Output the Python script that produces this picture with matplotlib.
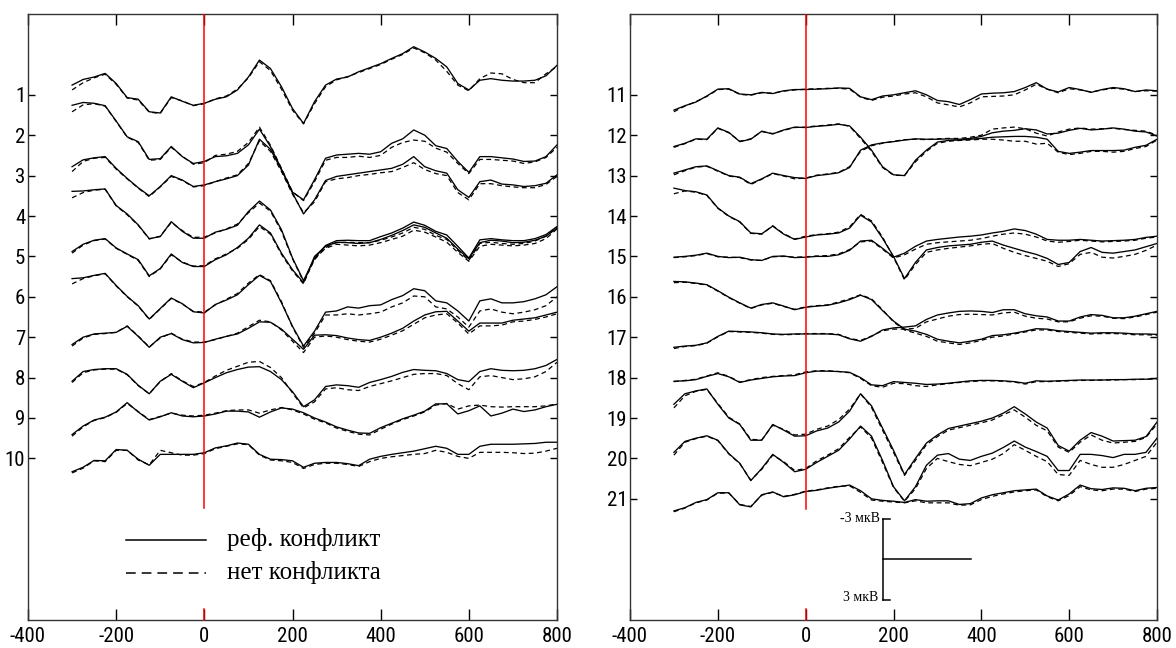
import matplotlib.pyplot as plt
from matplotlib import font_manager

# time axis (ms) and labels
time_ms = list(range(-300, 801, 25))
x_ticks = [-400, -200, 0, 200, 400, 600, 800]
left_channels = list(range(1, 11))
right_channels = list(range(11, 22))
legend_labels = ["реф. конфликт", "нет конфликта"]
scale_labels = ["-3 мкВ", "3 мкВ"]
uv_per_unit = 3.0     # 1 channel step = 3 мкВ, negative up
scale_ms = 200

# ERP traces, in channel units
# ref = "реф. конфликт" (solid), nc = "нет конфликта" (dashed)
ref_01 = [0.76, 0.62, 0.56, 0.47, 0.72, 1.07, 1.11, 1.42, 1.45,
          1.05, 1.16, 1.26, 1.21, 1.11, 1.05, 0.88, 0.56, 0.14,
          0.35, 0.80, 1.34, 1.71, 1.17, 0.76, 0.61, 0.56, 0.43,
          0.33, 0.23, 0.10, -0.02, -0.19, -0.06, 0.10, 0.31, 0.72,
          0.88, 0.64, 0.60, 0.64, 0.66, 0.66, 0.64, 0.53, 0.27]
nc_01 = [0.88, 0.70, 0.58, 0.49, 0.74, 1.08, 1.13, 1.43, 1.46,
         1.07, 1.15, 1.27, 1.22, 1.10, 1.03, 0.86, 0.58, 0.18,
         0.40, 0.86, 1.38, 1.72, 1.22, 0.80, 0.63, 0.55, 0.45,
         0.35, 0.25, 0.12, 0.00, -0.16, -0.04, 0.14, 0.42, 0.76,
         0.90, 0.60, 0.46, 0.48, 0.62, 0.70, 0.70, 0.48, 0.30]
ref_02 = [1.26, 1.19, 1.21, 1.27, 1.65, 2.04, 2.16, 2.60, 2.58,
          2.28, 2.53, 2.70, 2.65, 2.53, 2.51, 2.45, 2.24, 1.85,
          2.28, 2.84, 3.41, 3.60, 3.10, 2.57, 2.49, 2.47, 2.45,
          2.47, 2.41, 2.20, 2.09, 1.87, 2.00, 2.26, 2.33, 2.65,
          2.92, 2.53, 2.53, 2.56, 2.59, 2.65, 2.64, 2.53, 2.24]
nc_02 = [1.42, 1.25, 1.22, 1.28, 1.66, 2.05, 2.18, 2.62, 2.60,
         2.30, 2.52, 2.72, 2.68, 2.50, 2.47, 2.40, 2.18, 1.80,
         2.25, 2.82, 3.40, 3.62, 3.15, 2.62, 2.55, 2.55, 2.52,
         2.55, 2.50, 2.30, 2.18, 2.12, 2.15, 2.32, 2.42, 2.70,
         2.95, 2.60, 2.60, 2.62, 2.64, 2.70, 2.66, 2.55, 2.30]
ref_03 = [2.78, 2.61, 2.56, 2.53, 2.82, 3.07, 3.30, 3.50, 3.27,
          3.00, 3.11, 3.27, 3.23, 3.15, 3.08, 3.00, 2.74, 2.10,
          2.35, 2.86, 3.43, 3.95, 3.60, 3.12, 3.02, 2.98, 2.94,
          2.90, 2.86, 2.82, 2.72, 2.53, 2.78, 2.88, 2.94, 3.35,
          3.54, 3.15, 3.11, 3.21, 3.23, 3.27, 3.25, 3.19, 2.98]
nc_03 = [2.90, 2.65, 2.57, 2.55, 2.84, 3.08, 3.31, 3.52, 3.28,
         3.02, 3.12, 3.28, 3.25, 3.15, 3.06, 2.98, 2.70, 2.14,
         2.40, 2.90, 3.46, 3.92, 3.65, 3.15, 3.08, 3.05, 3.00,
         2.97, 2.93, 2.90, 2.80, 2.68, 2.85, 2.95, 3.00, 3.42,
         3.60, 3.20, 3.20, 3.25, 3.28, 3.30, 3.30, 3.22, 3.02]
ref_04 = [3.39, 3.38, 3.35, 3.33, 3.74, 3.95, 4.22, 4.56, 4.51,
          4.14, 4.38, 4.55, 4.55, 4.40, 4.33, 4.23, 3.89, 3.63,
          3.85, 4.34, 5.04, 5.60, 5.04, 4.73, 4.61, 4.60, 4.61,
          4.61, 4.51, 4.42, 4.30, 4.15, 4.23, 4.38, 4.47, 4.75,
          5.04, 4.59, 4.56, 4.59, 4.61, 4.61, 4.56, 4.46, 4.26]
nc_04 = [3.55, 3.42, 3.36, 3.34, 3.75, 3.97, 4.23, 4.57, 4.50,
         4.16, 4.36, 4.53, 4.52, 4.42, 4.32, 4.20, 3.92, 3.68,
         3.88, 4.38, 5.06, 5.62, 5.08, 4.78, 4.66, 4.65, 4.66,
         4.66, 4.60, 4.52, 4.42, 4.28, 4.33, 4.48, 4.58, 4.85,
         5.10, 4.68, 4.65, 4.68, 4.70, 4.68, 4.62, 4.50, 4.28]
ref_05 = [4.88, 4.70, 4.60, 4.56, 4.79, 4.94, 5.08, 5.48, 5.30,
          4.94, 5.15, 5.25, 5.25, 5.08, 4.96, 4.78, 4.55, 4.22,
          4.42, 4.92, 5.33, 5.65, 5.00, 4.75, 4.65, 4.66, 4.68,
          4.66, 4.58, 4.48, 4.36, 4.22, 4.28, 4.42, 4.55, 4.82,
          5.06, 4.66, 4.60, 4.62, 4.66, 4.65, 4.60, 4.50, 4.30]
nc_05 = [4.92, 4.72, 4.61, 4.57, 4.80, 4.95, 5.10, 5.50, 5.31,
         4.96, 5.14, 5.24, 5.23, 5.06, 4.94, 4.80, 4.58, 4.26,
         4.45, 4.95, 5.36, 5.68, 5.05, 4.80, 4.70, 4.72, 4.74,
         4.72, 4.66, 4.58, 4.50, 4.35, 4.40, 4.52, 4.65, 4.90,
         5.12, 4.75, 4.70, 4.72, 4.74, 4.72, 4.68, 4.56, 4.32]
ref_06 = [5.55, 5.53, 5.47, 5.42, 5.72, 5.99, 6.22, 6.55, 6.29,
          6.03, 6.17, 6.37, 6.40, 6.19, 6.08, 5.95, 5.70, 5.47,
          5.62, 6.15, 6.73, 7.22, 6.85, 6.38, 6.35, 6.25, 6.28,
          6.22, 6.20, 6.07, 5.97, 5.80, 5.85, 6.10, 6.15, 6.35,
          6.60, 6.10, 6.05, 6.15, 6.15, 6.12, 6.05, 5.95, 5.75]
nc_06 = [5.68, 5.55, 5.48, 5.43, 5.73, 6.00, 6.23, 6.56, 6.30,
         6.04, 6.18, 6.36, 6.38, 6.20, 6.06, 5.92, 5.66, 5.45,
         5.60, 6.12, 6.75, 7.25, 6.90, 6.45, 6.45, 6.42, 6.45,
         6.42, 6.38, 6.25, 6.15, 5.98, 6.00, 6.25, 6.30, 6.50,
         6.75, 6.35, 6.30, 6.38, 6.42, 6.38, 6.32, 6.22, 6.00]
ref_07 = [7.18, 7.00, 6.92, 6.90, 6.88, 6.73, 6.98, 7.25, 7.00,
          6.91, 7.06, 7.14, 7.13, 7.05, 6.98, 6.92, 6.78, 6.62,
          6.63, 6.80, 7.05, 7.30, 6.95, 6.94, 6.96, 7.02, 7.06,
          7.08, 7.00, 6.90, 6.78, 6.60, 6.45, 6.37, 6.36, 6.60,
          6.85, 6.65, 6.65, 6.65, 6.58, 6.55, 6.52, 6.45, 6.38]
nc_07 = [7.22, 7.02, 6.93, 6.91, 6.88, 6.72, 6.97, 7.24, 7.02,
         6.90, 7.05, 7.12, 7.12, 7.06, 6.98, 6.90, 6.74, 6.58,
         6.62, 6.82, 7.10, 7.38, 7.00, 6.97, 7.00, 7.06, 7.10,
         7.12, 7.05, 6.95, 6.84, 6.68, 6.52, 6.45, 6.42, 6.65,
         6.92, 6.72, 6.72, 6.70, 6.62, 6.60, 6.56, 6.50, 6.42]
ref_08 = [8.09, 7.85, 7.80, 7.78, 7.78, 7.92, 8.19, 8.40, 8.09,
          7.92, 8.09, 8.25, 8.13, 8.00, 7.88, 7.80, 7.74, 7.73,
          7.85, 8.05, 8.35, 8.72, 8.55, 8.22, 8.18, 8.20, 8.24,
          8.12, 8.05, 7.97, 7.87, 7.80, 7.82, 7.83, 7.90, 8.05,
          8.10, 7.85, 7.78, 7.82, 7.83, 7.82, 7.78, 7.70, 7.55]
nc_08 = [8.12, 7.88, 7.81, 7.79, 7.79, 7.93, 8.20, 8.40, 8.10,
         7.90, 8.08, 8.22, 8.12, 7.96, 7.82, 7.72, 7.62, 7.60,
         7.75, 8.00, 8.38, 8.75, 8.60, 8.28, 8.25, 8.30, 8.32,
         8.22, 8.15, 8.08, 8.00, 7.92, 7.90, 7.90, 7.95, 8.15,
         8.30, 7.98, 7.95, 8.00, 8.05, 8.03, 7.98, 7.85, 7.62]
ref_09 = [9.41, 9.20, 9.05, 8.98, 8.85, 8.62, 8.85, 9.05, 8.97,
          8.87, 8.95, 8.97, 8.95, 8.90, 8.83, 8.83, 8.85, 8.98,
          8.85, 8.75, 8.78, 8.87, 9.00, 9.10, 9.22, 9.30, 9.37,
          9.38, 9.24, 9.13, 9.02, 8.93, 8.83, 8.65, 8.65, 8.90,
          8.82, 8.70, 8.95, 8.88, 8.78, 8.84, 8.80, 8.72, 8.66]
nc_09 = [9.45, 9.22, 9.06, 8.99, 8.86, 8.64, 8.84, 9.04, 8.96,
         8.88, 8.93, 8.95, 8.93, 8.88, 8.82, 8.80, 8.80, 8.88,
         8.80, 8.74, 8.80, 8.90, 9.03, 9.12, 9.25, 9.33, 9.40,
         9.42, 9.28, 9.15, 9.04, 8.95, 8.85, 8.68, 8.64, 8.78,
         8.70, 8.68, 8.72, 8.73, 8.72, 8.72, 8.72, 8.70, 8.65]
ref_10 = [10.33, 10.22, 10.05, 10.06, 9.78, 9.80, 10.02, 10.17, 9.90,
          9.90, 9.90, 9.90, 9.86, 9.74, 9.69, 9.62, 9.65, 9.90,
          10.02, 10.03, 10.06, 10.22, 10.12, 10.10, 10.10, 10.13, 10.18,
          10.02, 9.95, 9.90, 9.86, 9.82, 9.76, 9.70, 9.75, 9.90,
          9.90, 9.70, 9.65, 9.65, 9.65, 9.64, 9.63, 9.60, 9.60]
nc_10 = [10.36, 10.24, 10.06, 10.08, 9.80, 9.80, 10.04, 10.16, 9.80,
         9.86, 9.92, 9.92, 9.88, 9.76, 9.70, 9.64, 9.66, 9.92,
         10.04, 10.06, 10.10, 10.25, 10.15, 10.12, 10.12, 10.15, 10.20,
         10.08, 10.00, 9.96, 9.93, 9.90, 9.88, 9.80, 9.85, 9.95,
         10.00, 9.85, 9.85, 9.85, 9.86, 9.88, 9.87, 9.82, 9.75]
ref_11 = [11.38, 11.27, 11.18, 11.03, 10.86, 10.85, 10.98, 11.00, 10.94,
          10.97, 10.90, 10.87, 10.87, 10.86, 10.85, 10.83, 10.84, 11.05,
          11.12, 11.03, 11.00, 10.95, 10.90, 11.00, 11.14, 11.17, 11.24,
          11.12, 10.98, 10.96, 10.95, 10.92, 10.82, 10.70, 10.86, 10.93,
          10.82, 10.87, 10.94, 10.87, 10.82, 10.85, 10.92, 10.88, 10.90]
nc_11 = [11.42, 11.28, 11.17, 11.04, 10.87, 10.86, 10.99, 11.01, 10.95,
         10.96, 10.91, 10.88, 10.86, 10.85, 10.84, 10.84, 10.86, 11.06,
         11.14, 11.06, 11.03, 10.98, 10.95, 11.05, 11.20, 11.25, 11.30,
         11.20, 11.05, 11.04, 11.03, 11.00, 10.88, 10.74, 10.86, 10.95,
         10.85, 10.88, 10.93, 10.88, 10.84, 10.86, 10.92, 10.90, 10.91]
ref_12 = [12.28, 12.20, 12.09, 12.10, 11.82, 11.93, 12.16, 12.10, 11.90,
          11.97, 11.87, 11.80, 11.81, 11.78, 11.76, 11.73, 11.77, 12.05,
          12.37, 12.78, 12.98, 13.00, 12.62, 12.37, 12.17, 12.13, 12.12,
          12.10, 12.08, 12.05, 12.04, 12.03, 12.03, 12.05, 12.10, 12.40,
          12.45, 12.42, 12.38, 12.38, 12.38, 12.37, 12.30, 12.25, 12.10]
nc_12 = [12.30, 12.21, 12.10, 12.11, 11.83, 11.94, 12.15, 12.09, 11.91,
         11.96, 11.88, 11.81, 11.80, 11.77, 11.75, 11.72, 11.78, 12.08,
         12.40, 12.80, 12.99, 13.00, 12.66, 12.40, 12.20, 12.15, 12.13,
         12.12, 12.10, 12.10, 12.12, 12.15, 12.15, 12.22, 12.20, 12.42,
         12.48, 12.45, 12.40, 12.40, 12.42, 12.40, 12.33, 12.28, 12.12]
ref_13 = [12.94, 12.86, 12.78, 12.76, 12.88, 13.00, 13.04, 13.20, 13.08,
          12.94, 13.00, 13.05, 13.07, 13.00, 12.97, 12.93, 12.80, 12.37,
          12.24, 12.19, 12.16, 12.12, 12.09, 12.10, 12.10, 12.09, 12.10,
          12.08, 12.03, 11.94, 11.90, 11.88, 11.84, 11.87, 11.97, 11.95,
          11.88, 11.83, 11.87, 11.85, 11.82, 11.85, 11.90, 11.92, 12.02]
nc_13 = [12.98, 12.88, 12.79, 12.77, 12.89, 13.01, 13.05, 13.22, 13.09,
         12.95, 13.01, 13.08, 13.06, 12.99, 12.96, 12.92, 12.78, 12.40,
         12.26, 12.20, 12.15, 12.11, 12.10, 12.11, 12.09, 12.08, 12.08,
         12.05, 12.00, 11.85, 11.82, 11.80, 11.84, 11.95, 12.02, 11.92,
         11.85, 11.82, 11.85, 11.84, 11.83, 11.86, 11.88, 11.90, 12.00]
ref_14 = [13.31, 13.37, 13.40, 13.48, 13.80, 14.00, 14.14, 14.42, 14.44,
          14.25, 14.45, 14.58, 14.52, 14.47, 14.45, 14.42, 14.30, 13.98,
          14.15, 14.55, 15.00, 15.55, 15.15, 14.84, 14.78, 14.74, 14.72,
          14.70, 14.65, 14.62, 14.72, 14.80, 14.88, 14.95, 15.05, 15.20,
          15.15, 14.88, 14.78, 14.90, 14.92, 14.88, 14.84, 14.76, 14.68]
nc_14 = [13.45, 13.38, 13.41, 13.49, 13.81, 14.01, 14.15, 14.43, 14.45,
         14.24, 14.44, 14.57, 14.50, 14.46, 14.44, 14.40, 14.27, 13.96,
         14.12, 14.52, 15.02, 15.58, 15.20, 14.90, 14.84, 14.80, 14.77,
         14.74, 14.70, 14.68, 14.80, 14.90, 14.98, 15.05, 15.12, 15.25,
         15.18, 14.95, 14.90, 15.02, 15.04, 15.00, 14.95, 14.85, 14.72]
ref_15 = [15.02, 15.00, 14.97, 14.92, 15.00, 15.03, 15.02, 15.08, 15.10,
          15.00, 14.99, 15.03, 15.02, 15.00, 15.00, 14.96, 14.85, 14.62,
          14.60, 14.80, 15.02, 14.92, 14.75, 14.62, 14.58, 14.55, 14.52,
          14.50, 14.47, 14.42, 14.38, 14.32, 14.36, 14.45, 14.58, 14.60,
          14.60, 14.58, 14.60, 14.62, 14.61, 14.60, 14.58, 14.53, 14.50]
nc_15 = [15.03, 15.01, 14.98, 14.93, 15.01, 15.02, 15.03, 15.09, 15.10,
         15.01, 15.00, 15.02, 15.01, 14.99, 14.98, 14.94, 14.83, 14.64,
         14.62, 14.82, 15.04, 14.96, 14.82, 14.70, 14.66, 14.64, 14.62,
         14.60, 14.56, 14.50, 14.45, 14.42, 14.45, 14.52, 14.62, 14.65,
         14.63, 14.60, 14.62, 14.64, 14.63, 14.62, 14.60, 14.55, 14.52]
ref_16 = [15.62, 15.63, 15.66, 15.70, 15.85, 16.01, 16.15, 16.28, 16.19,
          16.15, 16.23, 16.32, 16.26, 16.23, 16.21, 16.15, 16.07, 15.96,
          16.07, 16.34, 16.60, 16.80, 16.85, 16.93, 17.05, 17.10, 17.14,
          17.10, 17.05, 16.96, 16.94, 16.90, 16.85, 16.79, 16.80, 16.84,
          16.86, 16.88, 16.90, 16.89, 16.89, 16.90, 16.92, 16.92, 16.93]
nc_16 = [15.65, 15.64, 15.67, 15.71, 15.86, 16.02, 16.16, 16.29, 16.20,
         16.16, 16.24, 16.31, 16.25, 16.22, 16.20, 16.13, 16.05, 15.95,
         16.05, 16.32, 16.62, 16.82, 16.90, 16.98, 17.10, 17.14, 17.18,
         17.14, 17.08, 17.00, 16.97, 16.92, 16.87, 16.82, 16.82, 16.86,
         16.88, 16.90, 16.92, 16.91, 16.91, 16.92, 16.94, 16.94, 16.95]
ref_17 = [17.25, 17.22, 17.20, 17.14, 16.98, 16.85, 16.86, 16.87, 16.89,
          16.92, 16.93, 16.92, 16.92, 16.92, 16.92, 16.94, 17.04, 17.10,
          16.98, 16.82, 16.77, 16.75, 16.72, 16.56, 16.45, 16.40, 16.36,
          16.35, 16.36, 16.39, 16.32, 16.32, 16.42, 16.47, 16.50, 16.60,
          16.60, 16.50, 16.44, 16.46, 16.52, 16.52, 16.48, 16.42, 16.36]
nc_17 = [17.28, 17.23, 17.21, 17.15, 16.99, 16.86, 16.87, 16.88, 16.90,
         16.93, 16.94, 16.93, 16.91, 16.91, 16.91, 16.93, 17.03, 17.08,
         16.97, 16.84, 16.80, 16.80, 16.78, 16.62, 16.55, 16.48, 16.44,
         16.43, 16.44, 16.45, 16.40, 16.38, 16.48, 16.53, 16.55, 16.62,
         16.62, 16.53, 16.47, 16.48, 16.53, 16.54, 16.50, 16.44, 16.38]
ref_18 = [18.09, 18.08, 18.05, 17.97, 17.90, 17.98, 18.12, 18.06, 18.02,
          17.98, 17.96, 17.95, 17.88, 17.84, 17.84, 17.85, 17.87, 18.00,
          18.18, 18.20, 18.10, 18.12, 18.14, 18.17, 18.16, 18.14, 18.11,
          18.08, 18.07, 18.07, 18.08, 18.10, 18.14, 18.08, 18.09, 18.08,
          18.07, 18.06, 18.06, 18.06, 18.05, 18.05, 18.04, 18.04, 18.02]
nc_18 = [18.10, 18.07, 18.04, 17.96, 17.88, 17.97, 18.11, 18.05, 18.00,
         17.97, 17.95, 17.93, 17.86, 17.83, 17.83, 17.85, 17.88, 18.02,
         18.20, 18.24, 18.14, 18.15, 18.20, 18.22, 18.18, 18.15, 18.12,
         18.10, 18.08, 18.08, 18.09, 18.11, 18.16, 18.10, 18.10, 18.09,
         18.08, 18.07, 18.07, 18.06, 18.06, 18.05, 18.05, 18.04, 18.03]
ref_19 = [18.66, 18.40, 18.33, 18.28, 18.66, 19.00, 19.16, 19.55, 19.55,
          19.16, 19.30, 19.45, 19.44, 19.32, 19.25, 19.10, 18.83, 18.40,
          18.70, 19.25, 19.80, 20.40, 20.00, 19.62, 19.42, 19.26, 19.20,
          19.14, 19.08, 19.00, 18.88, 18.72, 18.90, 19.10, 19.25, 19.68,
          19.82, 19.55, 19.36, 19.45, 19.57, 19.56, 19.55, 19.46, 19.10]
nc_19 = [18.75, 18.45, 18.34, 18.29, 18.64, 18.98, 19.15, 19.53, 19.54,
         19.18, 19.28, 19.42, 19.40, 19.28, 19.20, 19.04, 18.78, 18.40,
         18.74, 19.30, 19.85, 20.42, 20.05, 19.66, 19.46, 19.30, 19.24,
         19.18, 19.12, 19.05, 18.92, 18.80, 18.98, 19.18, 19.32, 19.72,
         19.85, 19.60, 19.42, 19.55, 19.62, 19.60, 19.58, 19.48, 19.15]
ref_20 = [19.85, 19.58, 19.50, 19.44, 19.55, 19.88, 20.12, 20.55, 20.25,
          19.90, 20.10, 20.33, 20.27, 20.10, 19.95, 19.80, 19.52, 19.20,
          19.45, 20.05, 20.70, 21.05, 20.70, 20.17, 19.92, 19.88, 20.02,
          20.05, 19.95, 19.87, 19.73, 19.57, 19.72, 19.83, 19.95, 20.30,
          20.30, 19.90, 19.90, 19.93, 19.98, 19.90, 19.90, 19.85, 19.50]
nc_20 = [19.92, 19.60, 19.51, 19.45, 19.56, 19.89, 20.13, 20.54, 20.27,
         19.92, 20.08, 20.30, 20.25, 20.06, 19.92, 19.76, 19.48, 19.22,
         19.50, 20.10, 20.72, 21.06, 20.75, 20.25, 20.00, 20.08, 20.15,
         20.18, 20.10, 20.02, 19.88, 19.66, 19.80, 19.95, 20.08, 20.40,
         20.42, 20.05, 20.15, 20.22, 20.22, 20.15, 20.05, 19.95, 19.60]
ref_21 = [21.30, 21.22, 21.09, 21.02, 20.85, 20.85, 21.15, 21.20, 20.90,
          20.83, 20.95, 20.90, 20.82, 20.79, 20.74, 20.70, 20.66, 20.80,
          21.00, 21.04, 21.06, 21.09, 21.02, 21.06, 21.05, 21.05, 21.14,
          21.12, 20.98, 20.90, 20.85, 20.80, 20.78, 20.76, 20.93, 21.03,
          20.88, 20.66, 20.75, 20.77, 20.73, 20.74, 20.80, 20.74, 20.72]
nc_21 = [21.32, 21.23, 21.10, 21.03, 20.86, 20.86, 21.14, 21.19, 20.91,
         20.84, 20.94, 20.89, 20.81, 20.78, 20.73, 20.69, 20.68, 20.84,
         21.03, 21.06, 21.08, 21.10, 21.05, 21.10, 21.10, 21.10, 21.16,
         21.15, 21.02, 20.94, 20.88, 20.83, 20.80, 20.78, 20.95, 21.05,
         20.92, 20.70, 20.78, 20.80, 20.76, 20.76, 20.82, 20.76, 20.74]

ref_left = [ref_01, ref_02, ref_03, ref_04, ref_05, ref_06, ref_07, ref_08, ref_09, ref_10]
nc_left = [nc_01, nc_02, nc_03, nc_04, nc_05, nc_06, nc_07, nc_08, nc_09, nc_10]
ref_right = [ref_11, ref_12, ref_13, ref_14, ref_15, ref_16, ref_17, ref_18, ref_19, ref_20, ref_21]
nc_right = [nc_11, nc_12, nc_13, nc_14, nc_15, nc_16, nc_17, nc_18, nc_19, nc_20, nc_21]

# tick font: a narrow sans if one is installed
names = {f.name for f in font_manager.fontManager.ttflist}
tick_font, tick_size = 'Liberation Sans', 13
for nm in ['Liberation Sans Narrow', 'Arial Narrow', 'Roboto Condensed', 'Archivo Narrow']:
    if nm in names:
        tick_font, tick_size = nm, 15
        break
serif = ['Liberation Serif', 'DejaVu Serif']

plt.rcParams['font.family'] = [tick_font, 'DejaVu Sans']
plt.rcParams['axes.unicode_minus'] = False
plt.rcParams['lines.scale_dashes'] = False

fig = plt.figure(figsize=(11.76, 6.48), dpi=100)
ax_l = fig.add_axes([28 / 1176, 28 / 648, 529 / 1176, 606 / 648])
ax_r = fig.add_axes([630 / 1176, 28 / 648, 527 / 1176, 606 / 648])


def draw_panel(ax, refs, ncs, chans, ylim, red_end):
    for r, n in zip(refs, ncs):
        ax.plot(time_ms, n, color='black', lw=0.9, dashes=(3.5, 2.5))
        ax.plot(time_ms, r, color='black', lw=0.95)
    ax.set_xlim(-400, 800)
    ax.set_ylim(*ylim)
    ax.set_xticks(x_ticks)
    ax.set_yticks(chans)
    ax.tick_params(direction='in', top=True, right=True, width=1.0,
                   labelsize=tick_size)
    ax.tick_params(axis='x', length=8, pad=5)
    ax.tick_params(axis='y', length=5, pad=2)
    for s in ax.spines.values():
        s.set_linewidth(1.0)
        s.set_color('#333333')
    # stimulus onset
    ax.plot([0, 0], [ylim[1], red_end], color='#ff0000', lw=1.1, zorder=3)
    ax.plot([0, 0], [ylim[0], ylim[0] - 0.27], color='#ff0000', lw=1.1,
            zorder=3, clip_on=False)


draw_panel(ax_l, ref_left, nc_left, left_channels, (14, -1), 11.22)
draw_panel(ax_r, ref_right, nc_right, right_channels, (24, 9), 21.25)

# legend in the left panel
ax_l.plot([-178, 4], [12.01, 12.01], color='black', lw=1.1)
ax_l.plot([-178, 4], [12.83, 12.83], color='black', lw=1.1, dashes=(7, 4.3))
ax_l.text(51, 12.01, legend_labels[0], family=serif, fontsize=18,
          ha='left', va='center')
ax_l.text(51, 12.83, legend_labels[1], family=serif, fontsize=18,
          ha='left', va='center')

# scale bar in the right panel
bar_x, bar_mid = 177, 22.5
half = 3.0 / uv_per_unit
ax_r.plot([bar_x, bar_x], [bar_mid - half, bar_mid + half], color='black', lw=1.1)
ax_r.plot([bar_x, bar_x + 14], [bar_mid - half, bar_mid - half], color='black', lw=1.1)
ax_r.plot([bar_x, bar_x + 14], [bar_mid + half, bar_mid + half], color='black', lw=1.1)
ax_r.plot([bar_x, bar_x + scale_ms], [bar_mid, bar_mid], color='black', lw=1.1)
ax_r.text(bar_x - 9, bar_mid - half, scale_labels[0], family=serif, fontsize=10,
          ha='right', va='center')
ax_r.text(bar_x - 11, bar_mid + half - 0.05, scale_labels[1], family=serif,
          fontsize=10, ha='right', va='center')

fig.savefig('out.png', dpi=100)
